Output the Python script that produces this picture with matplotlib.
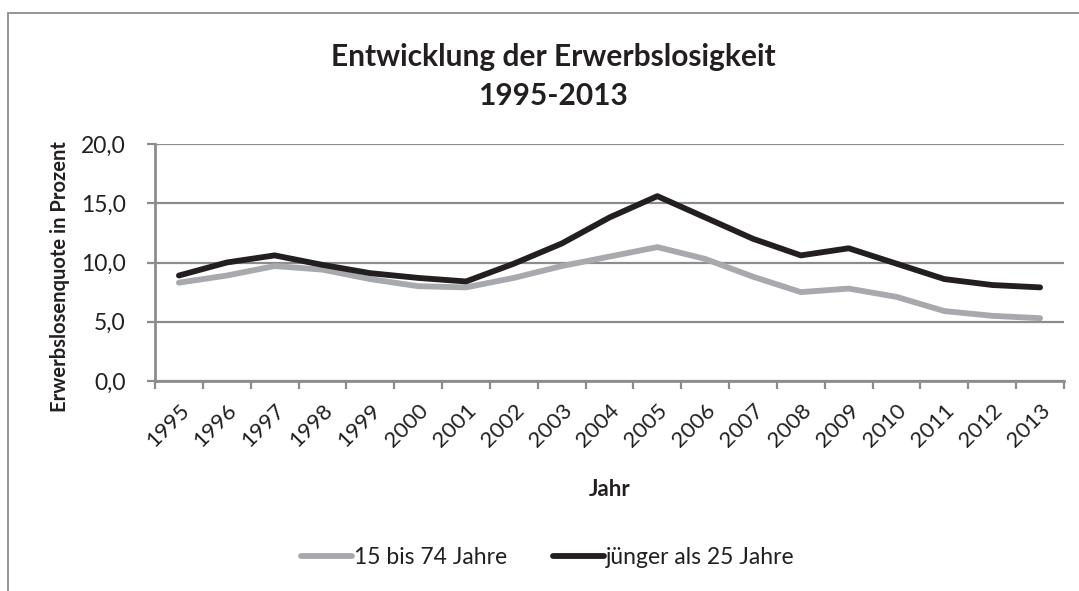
import matplotlib.pyplot as plt
from matplotlib.patches import Rectangle
from matplotlib.ticker import FixedLocator

plt.rcParams['font.family'] = ['Lato', 'DejaVu Sans']

# Daten
jahre = ['1995', '1996', '1997', '1998', '1999', '2000', '2001', '2002', '2003', '2004',
         '2005', '2006', '2007', '2008', '2009', '2010', '2011', '2012', '2013']
quote_15_74 = [8.3, 8.9, 9.7, 9.4, 8.6, 8.0, 7.9, 8.7, 9.7, 10.5,
               11.3, 10.3, 8.8, 7.5, 7.8, 7.1, 5.9, 5.5, 5.3]
quote_u25 = [8.9, 10.0, 10.6, 9.8, 9.1, 8.7, 8.4, 9.9, 11.6, 13.8,
             15.6, 13.8, 12.0, 10.6, 11.2, 9.9, 8.6, 8.1, 7.9]
y_ticks = [0, 5, 10, 15, 20]

grid_col = '#8c8c8e'
text_col = '#231f20'

fig = plt.figure(figsize=(10.79, 5.91), dpi=100)
# Rahmen des Diagrammbereichs (rechts/unten abgeschnitten)
fig.patches.append(Rectangle((8 / 1079, -0.1), 1.2, 1 - 13 / 591 + 0.1,
                             transform=fig.transFigure, fill=False,
                             edgecolor='#8c8c8e', lw=1.3))

ax = fig.add_axes([155 / 1079, 1 - 381 / 591, (1064 - 155) / 1079, (381 - 144) / 591])
x = list(range(len(jahre)))

ax.plot(x, quote_15_74, color='#a7a9ac', lw=4.2, solid_capstyle='round',
        solid_joinstyle='round', label='15 bis 74 Jahre', zorder=3)
ax.plot(x, quote_u25, color='#231f20', lw=4.2, solid_capstyle='round',
        solid_joinstyle='round', label='jünger als 25 Jahre', zorder=4)

ax.set_xlim(-0.5, len(jahre) - 0.5)
ax.set_ylim(0, 20)
ax.set_yticks(y_ticks)
ax.set_yticklabels([f'{v:.1f}'.replace('.', ',') for v in y_ticks],
                   fontsize=16.5, color=text_col)
ax.yaxis.grid(True, color=grid_col, lw=1.6)
ax.set_axisbelow(True)

ax.set_xticks(x)
ax.set_xticklabels(jahre, rotation=45, ha='right', va='top',
                   rotation_mode='anchor', fontsize=16, color=text_col)
ax.tick_params(axis='x', which='major', length=0, pad=14)
ax.xaxis.set_minor_locator(FixedLocator([i - 0.5 for i in range(len(jahre) + 1)]))
ax.tick_params(axis='x', which='minor', length=6, width=1.6, color=grid_col, direction='out')
ax.tick_params(axis='y', length=6, width=1.6, color=grid_col, pad=15)

for s in ['top', 'right']:
    ax.spines[s].set_visible(False)
for s in ['left', 'bottom']:
    ax.spines[s].set_color(grid_col)
    ax.spines[s].set_linewidth(2)

ax.set_ylabel('Erwerbslosenquote in Prozent', fontsize=14.5, fontweight='bold',
              color=text_col)
ax.yaxis.set_label_coords(-85 / 909, 0.44)
fig.text(610 / 1079, 1 - 489 / 591, 'Jahr', fontsize=16, fontweight='bold',
         color=text_col, ha='center', va='center')

fig.text(553 / 1079, 1 - 57 / 591, 'Entwicklung der Erwerbslosigkeit',
         fontsize=21.5, fontweight='bold', color=text_col, ha='center', va='center')
fig.text(553 / 1079, 1 - 96 / 591, '1995-2013',
         fontsize=21.5, fontweight='bold', color=text_col, ha='center', va='center')

fig.legend(loc='center', bbox_to_anchor=(548 / 1079, 1 - 558 / 591), ncol=2,
           frameon=False, fontsize=16.5, handlelength=2.2, handletextpad=0.1,
           columnspacing=2.0, labelcolor=text_col)

fig.savefig('out.png', dpi=100)
